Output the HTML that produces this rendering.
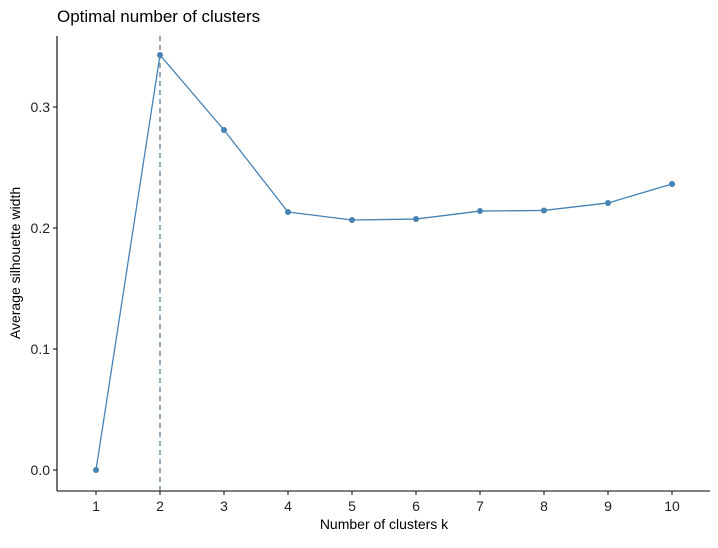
<!DOCTYPE html>
<html><head><meta charset="utf-8"><style>
body{margin:0;background:#fff;}
svg text{font-family:"Liberation Sans",sans-serif;}
</style></head><body>
<svg id="chart" width="718" height="543">
<text x="57" y="22" font-size="17" fill="#000">Optimal number of clusters</text>
<text x="384" y="529" font-size="14" text-anchor="middle" fill="#000">Number of clusters k</text>
<text transform="translate(20,263) rotate(-90)" font-size="14" text-anchor="middle" fill="#000">Average silhouette width</text>
<g id="plot"></g>
</svg>
<script>
const categories=[1,2,3,4,5,6,7,8,9,10];
const values=[0,0.343,0.281,0.2132,0.2066,0.2074,0.214,0.2145,0.2207,0.2364];
const yTicks=[0,0.1,0.2,0.3];
const yTickLabels=["0.0","0.1","0.2","0.3"];
const optimalK=2;
const ns="http://www.w3.org/2000/svg";
const g=document.getElementById('plot');
const X=k=>96+(k-1)*64;
const Y=v=>470-v*1210;
function el(t,a){const e=document.createElementNS(ns,t);for(const k in a)e.setAttribute(k,a[k]);g.appendChild(e);return e;}
let e=el('line',{x1:57,y1:36,x2:57,y2:491,stroke:'#000','stroke-width':1.1});


e=el('line',{x1:57,y1:491,x2:710,y2:491,stroke:'#000','stroke-width':1.1});


yTicks.forEach((v,i)=>{
 let t=el('line',{x1:53,y1:Y(v),x2:57,y2:Y(v),stroke:'#000'});
 
 
 let l=el('text',{x:50,y:Y(v)+5,'font-size':14,'text-anchor':'end',fill:'#222'});
 l.textContent=yTickLabels[i];
 
 
});
categories.forEach(k=>{
 let t=el('line',{x1:X(k),y1:491,x2:X(k),y2:495,stroke:'#000'});
 
 
 let l=el('text',{x:X(k),y:511,'font-size':14,'text-anchor':'middle',fill:'#222'});
 l.textContent=k;
 
 
});
e=el('line',{x1:X(optimalK),y1:36,x2:X(optimalK),y2:491,stroke:'#4a6f90','stroke-width':1.2,'stroke-dasharray':'5,4'});


e=el('polyline',{points:categories.map((k,i)=>X(k)+','+Y(values[i])).join(' '),fill:'none',stroke:'#4682b4','stroke-width':1.3});


categories.forEach((k,i)=>{
 let c=el('circle',{cx:X(k),cy:Y(values[i]),r:3,fill:'#4682b4'});
 
 
});
</script>
</body></html>
